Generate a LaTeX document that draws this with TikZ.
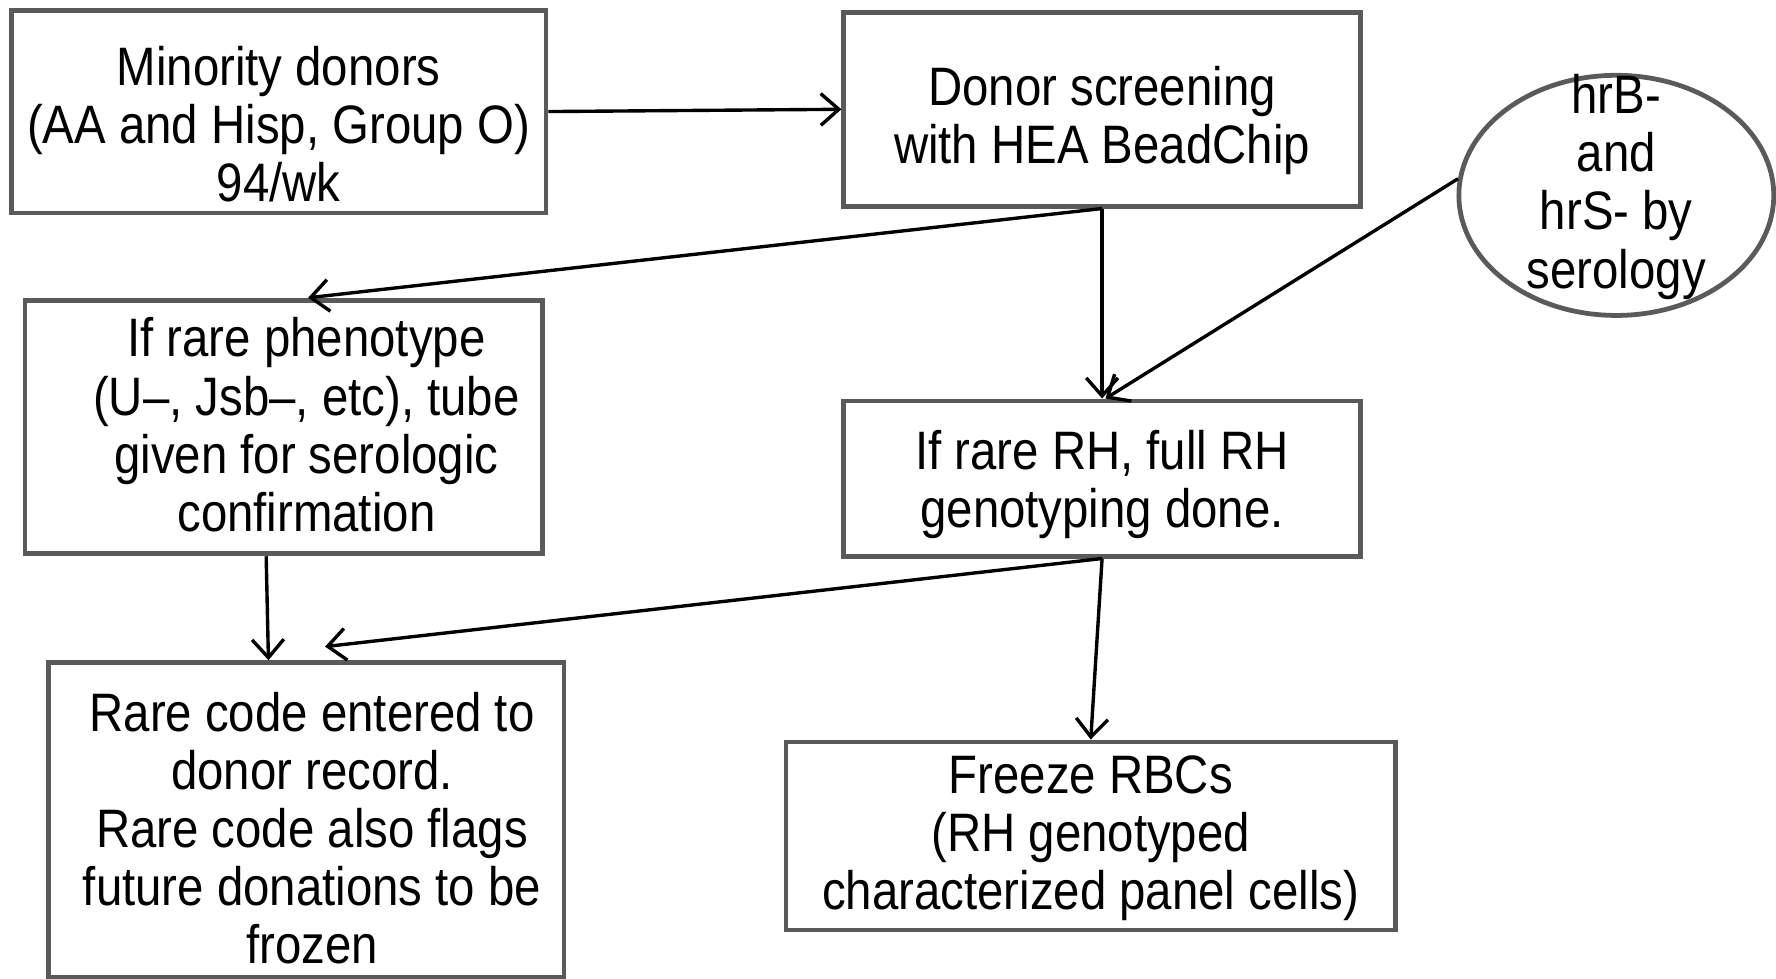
\documentclass[tikz,border=0pt]{standalone}
\usepackage{fontspec}
\setmainfont{Liberation Sans}[FakeStretch=0.875]
\usetikzlibrary{arrows.meta,shapes.geometric}
\definecolor{boxgray}{HTML}{5A5A5A}

\begin{document}
\begin{tikzpicture}[x=1cm,y=1cm]
        % Styles
        \tikzstyle{box}=[draw=boxgray,line width=1.2pt,inner sep=0pt]
        \tikzstyle{txt}=[align=center,inner sep=0pt,font=\fontsize{13.6}{14.6}\selectfont]
        \tikzstyle{flow}=[line width=0.85pt,-{Straight Barb[length=1.6mm,width=2.8mm]}]
        \useasboundingbox (0,0) rectangle (15.68,-8.64);
        %boxes
        \node[box,minimum width=4.72cm,minimum height=1.79cm] (donors) at (2.46,-0.985) {};
        \node[box,minimum width=4.56cm,minimum height=1.71cm] (screen) at (9.73,-0.965) {};
        \node[box,ellipse,minimum width=2.78cm,minimum height=2.12cm] (serol) at (14.27,-1.725) {};
        \node[box,minimum width=4.57cm,minimum height=2.24cm] (pheno) at (2.505,-3.77) {};
        \node[box,minimum width=4.56cm,minimum height=1.37cm] (rh) at (9.73,-4.225) {};
        \node[box,minimum width=4.55cm,minimum height=2.78cm] (rare) at (2.705,-7.24) {};
        \node[box,minimum width=5.38cm,minimum height=1.66cm] (freeze) at (9.63,-7.38) {};
        %texts
        \node[txt] (donorstext) at ([yshift=-0.11cm]donors.center)
            {Minority donors\\(AA and Hisp, Group O)\\94/wk};
        \node[txt] (screentext) at ([yshift=-0.10cm]screen.center)
            {Donor screening\\with HEA BeadChip};
        \node[txt] (seroltext) at ([yshift=0.075cm]serol.center)
            {hrB-\\and\\hrS- by\\serology};
        \node[txt] (phenotext) at ([shift={(0.2,0.02)}]pheno.center)
            {If rare phenotype\\(U--, Jsb--, etc), tube\\given for serologic\\confirmation};
        \node[txt] (rhtext) at ([yshift=-0.05cm]rh.center)
            {If rare RH, full RH\\genotyping done.};
        \node[txt] (raretext) at ([shift={(0.05,-0.07)}]rare.center)
            {Rare code entered to\\donor record.\\Rare code also flags\\future donations to be\\frozen};
        \node[txt] (freezetext) at ([yshift=-0.02cm]freeze.center)
            {Freeze RBCs\\(RH genotyped\\characterized panel cells)};
        %arrows
        \draw[flow] (donors.east) -- (screen.west);
        \draw[flow] (screen.south) -- ([xshift=0.215cm]pheno.north);
        \draw[flow] (screen.south) -- (rh.north);
        \draw[flow] (serol.174) -- ([xshift=0.03cm]rh.north);
        \draw[flow] ([xshift=-0.155cm]pheno.south) -- ([xshift=-0.335cm]rare.north);
        \draw[flow] (rh.south) -- ([shift={(0.165,0.12)}]rare.north);
        \draw[flow] (rh.south) -- (freeze.north);
\end{tikzpicture}
\end{document}
